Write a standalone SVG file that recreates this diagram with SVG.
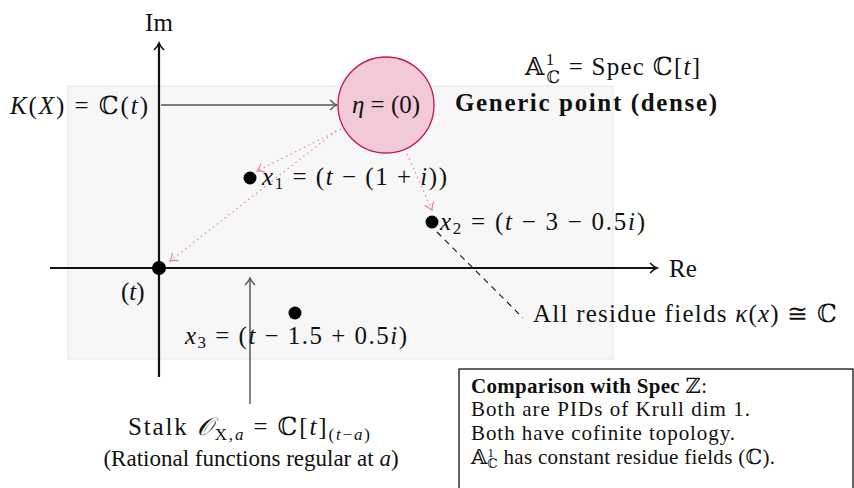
<svg xmlns="http://www.w3.org/2000/svg" width="854" height="488" viewBox="0 0 854 488">
<style>
text{font-family:"Liberation Serif","DejaVu Serif",serif;fill:#111;font-size:25px}
.it{font-style:italic}
.b{font-weight:bold}
.sm{font-size:17px}
.box{font-size:21px}
.bsm{font-size:13px}
.axis{stroke:#111;stroke-width:2.2;fill:none}
.dot{fill:#000}
.pk{stroke:#e8799f;stroke-width:1.1;stroke-dasharray:1.5 3.5;fill:none}
</style>
<defs>
<marker id="ah" markerWidth="12" markerHeight="12" refX="10" refY="6" orient="auto" markerUnits="userSpaceOnUse">
<path d="M3,1 Q7,5 10,6 Q7,7 3,11" fill="none" stroke="#111" stroke-width="1.6"/>
</marker>
<marker id="ahg" markerWidth="12" markerHeight="12" refX="10" refY="6" orient="auto" markerUnits="userSpaceOnUse">
<path d="M3,1 Q7,5 10,6 Q7,7 3,11" fill="none" stroke="#555" stroke-width="1.3"/>
</marker>
<marker id="ahp" markerWidth="12" markerHeight="12" refX="10" refY="6" orient="auto" markerUnits="userSpaceOnUse">
<path d="M3,1 Q7,5 10,6 Q7,7 3,11" fill="none" stroke="#e8799f" stroke-width="1.1"/>
</marker>
</defs>
<rect x="68" y="86" width="545" height="273" fill="#f7f7f7" stroke="#e6e6e6" stroke-width="1"/>
<g id="connectors">
<line class="axis" x1="159" y1="377" x2="159" y2="43" marker-end="url(#ah)"/>
<line class="axis" x1="50" y1="268" x2="657" y2="268" marker-end="url(#ah)"/>
<line x1="161" y1="105" x2="337" y2="105" stroke="#555" stroke-width="1.5" marker-end="url(#ahg)"/>
<line class="pk" x1="341" y1="129" x2="257" y2="171" marker-end="url(#ahp)"/>
<line class="pk" x1="336" y1="131" x2="170" y2="261" marker-end="url(#ahp)"/>
<line class="pk" x1="407" y1="154" x2="432" y2="210" marker-end="url(#ahp)"/>
<line x1="437" y1="232" x2="523" y2="318" stroke="#111" stroke-width="1.1" stroke-dasharray="6 5"/>
<line x1="250" y1="404" x2="250" y2="278" stroke="#444" stroke-width="1.3" marker-end="url(#ahg)"/>
</g>
<g id="labels-axes">
<text x="159" y="31" text-anchor="middle">Im</text>
<text x="669" y="277">Re</text>
</g>
<g id="origin">
<circle class="dot" cx="159" cy="268" r="7"/>
<text x="121" y="300"><tspan>(</tspan><tspan class="it">t</tspan><tspan>)</tspan></text>
</g>
<g id="kx">
<text x="10" y="114" textLength="138"><tspan class="it">K</tspan>(<tspan class="it">X</tspan>) = ℂ(<tspan class="it">t</tspan>)</text>
</g>
<g id="eta">
<circle cx="386" cy="105" r="48" fill="#f1c9d7" stroke="#c8164e" stroke-width="1.3"/>
<text x="386" y="113" text-anchor="middle"><tspan class="it">η</tspan> = (0)</text>
</g>
<g id="spec">
<text x="525" y="75" textLength="175">𝔸<tspan class="sm" dy="-10">1</tspan><tspan class="sm" dx="-9" dy="18">ℂ</tspan><tspan dy="-8"> = Spec ℂ[</tspan><tspan class="it">t</tspan>]</text>
<text class="b" x="455" y="111" textLength="262">Generic point (dense)</text>
</g>
<g id="x1">
<circle class="dot" cx="250" cy="178" r="6.5"/>
<text x="262" y="185" textLength="185"><tspan class="it">x</tspan><tspan class="sm" dy="4">1</tspan><tspan dy="-4"> = (</tspan><tspan class="it">t</tspan> − (1 + <tspan class="it">i</tspan>))</text>
</g>
<g id="x2">
<circle class="dot" cx="432" cy="222" r="6.5"/>
<text x="440" y="230" textLength="205"><tspan class="it">x</tspan><tspan class="sm" dy="4">2</tspan><tspan dy="-4"> = (</tspan><tspan class="it">t</tspan> − 3 − 0.5<tspan class="it">i</tspan>)</text>
</g>
<g id="x3">
<circle class="dot" cx="295" cy="313" r="6.5"/>
<text x="185" y="344" textLength="222"><tspan class="it">x</tspan><tspan class="sm" dy="4">3</tspan><tspan dy="-4"> = (</tspan><tspan class="it">t</tspan> − 1.5 + 0.5<tspan class="it">i</tspan>)</text>
</g>
<g id="residue">
<text x="533" y="322" textLength="304">All residue fields <tspan class="it">κ</tspan>(<tspan class="it">x</tspan>) ≅ ℂ</text>
</g>
<g id="stalk">
<text x="128" y="435" textLength="242">Stalk <tspan class="it">𝒪</tspan><tspan class="sm" dy="5">X,</tspan><tspan class="sm it">a</tspan><tspan dy="-5"> = ℂ[</tspan><tspan class="it">t</tspan>]<tspan class="sm" dy="5">(</tspan><tspan class="sm it">t</tspan><tspan class="sm">−</tspan><tspan class="sm it">a</tspan><tspan class="sm">)</tspan></text>
<text x="251" y="466" text-anchor="middle" style="font-size:23px">(Rational functions regular at <tspan class="it">a</tspan>)</text>
</g>
<g id="comparison">
<rect x="459" y="369" width="394" height="130" fill="#fff" stroke="#111" stroke-width="1.3"/>
<text class="box" x="471" y="393" textLength="236"><tspan class="b">Comparison with Spec</tspan> ℤ:</text>
<text class="box" x="471" y="416" textLength="279">Both are PIDs of Krull dim 1.</text>
<text class="box" x="471" y="440" textLength="264">Both have cofinite topology.</text>
<text class="box" x="471" y="464" textLength="304">𝔸<tspan class="bsm" dy="-7">1</tspan><tspan class="bsm" dx="-7" dy="11">ℂ</tspan><tspan dy="-4"> has constant residue fields (ℂ).</tspan></text>
</g>
</svg>
